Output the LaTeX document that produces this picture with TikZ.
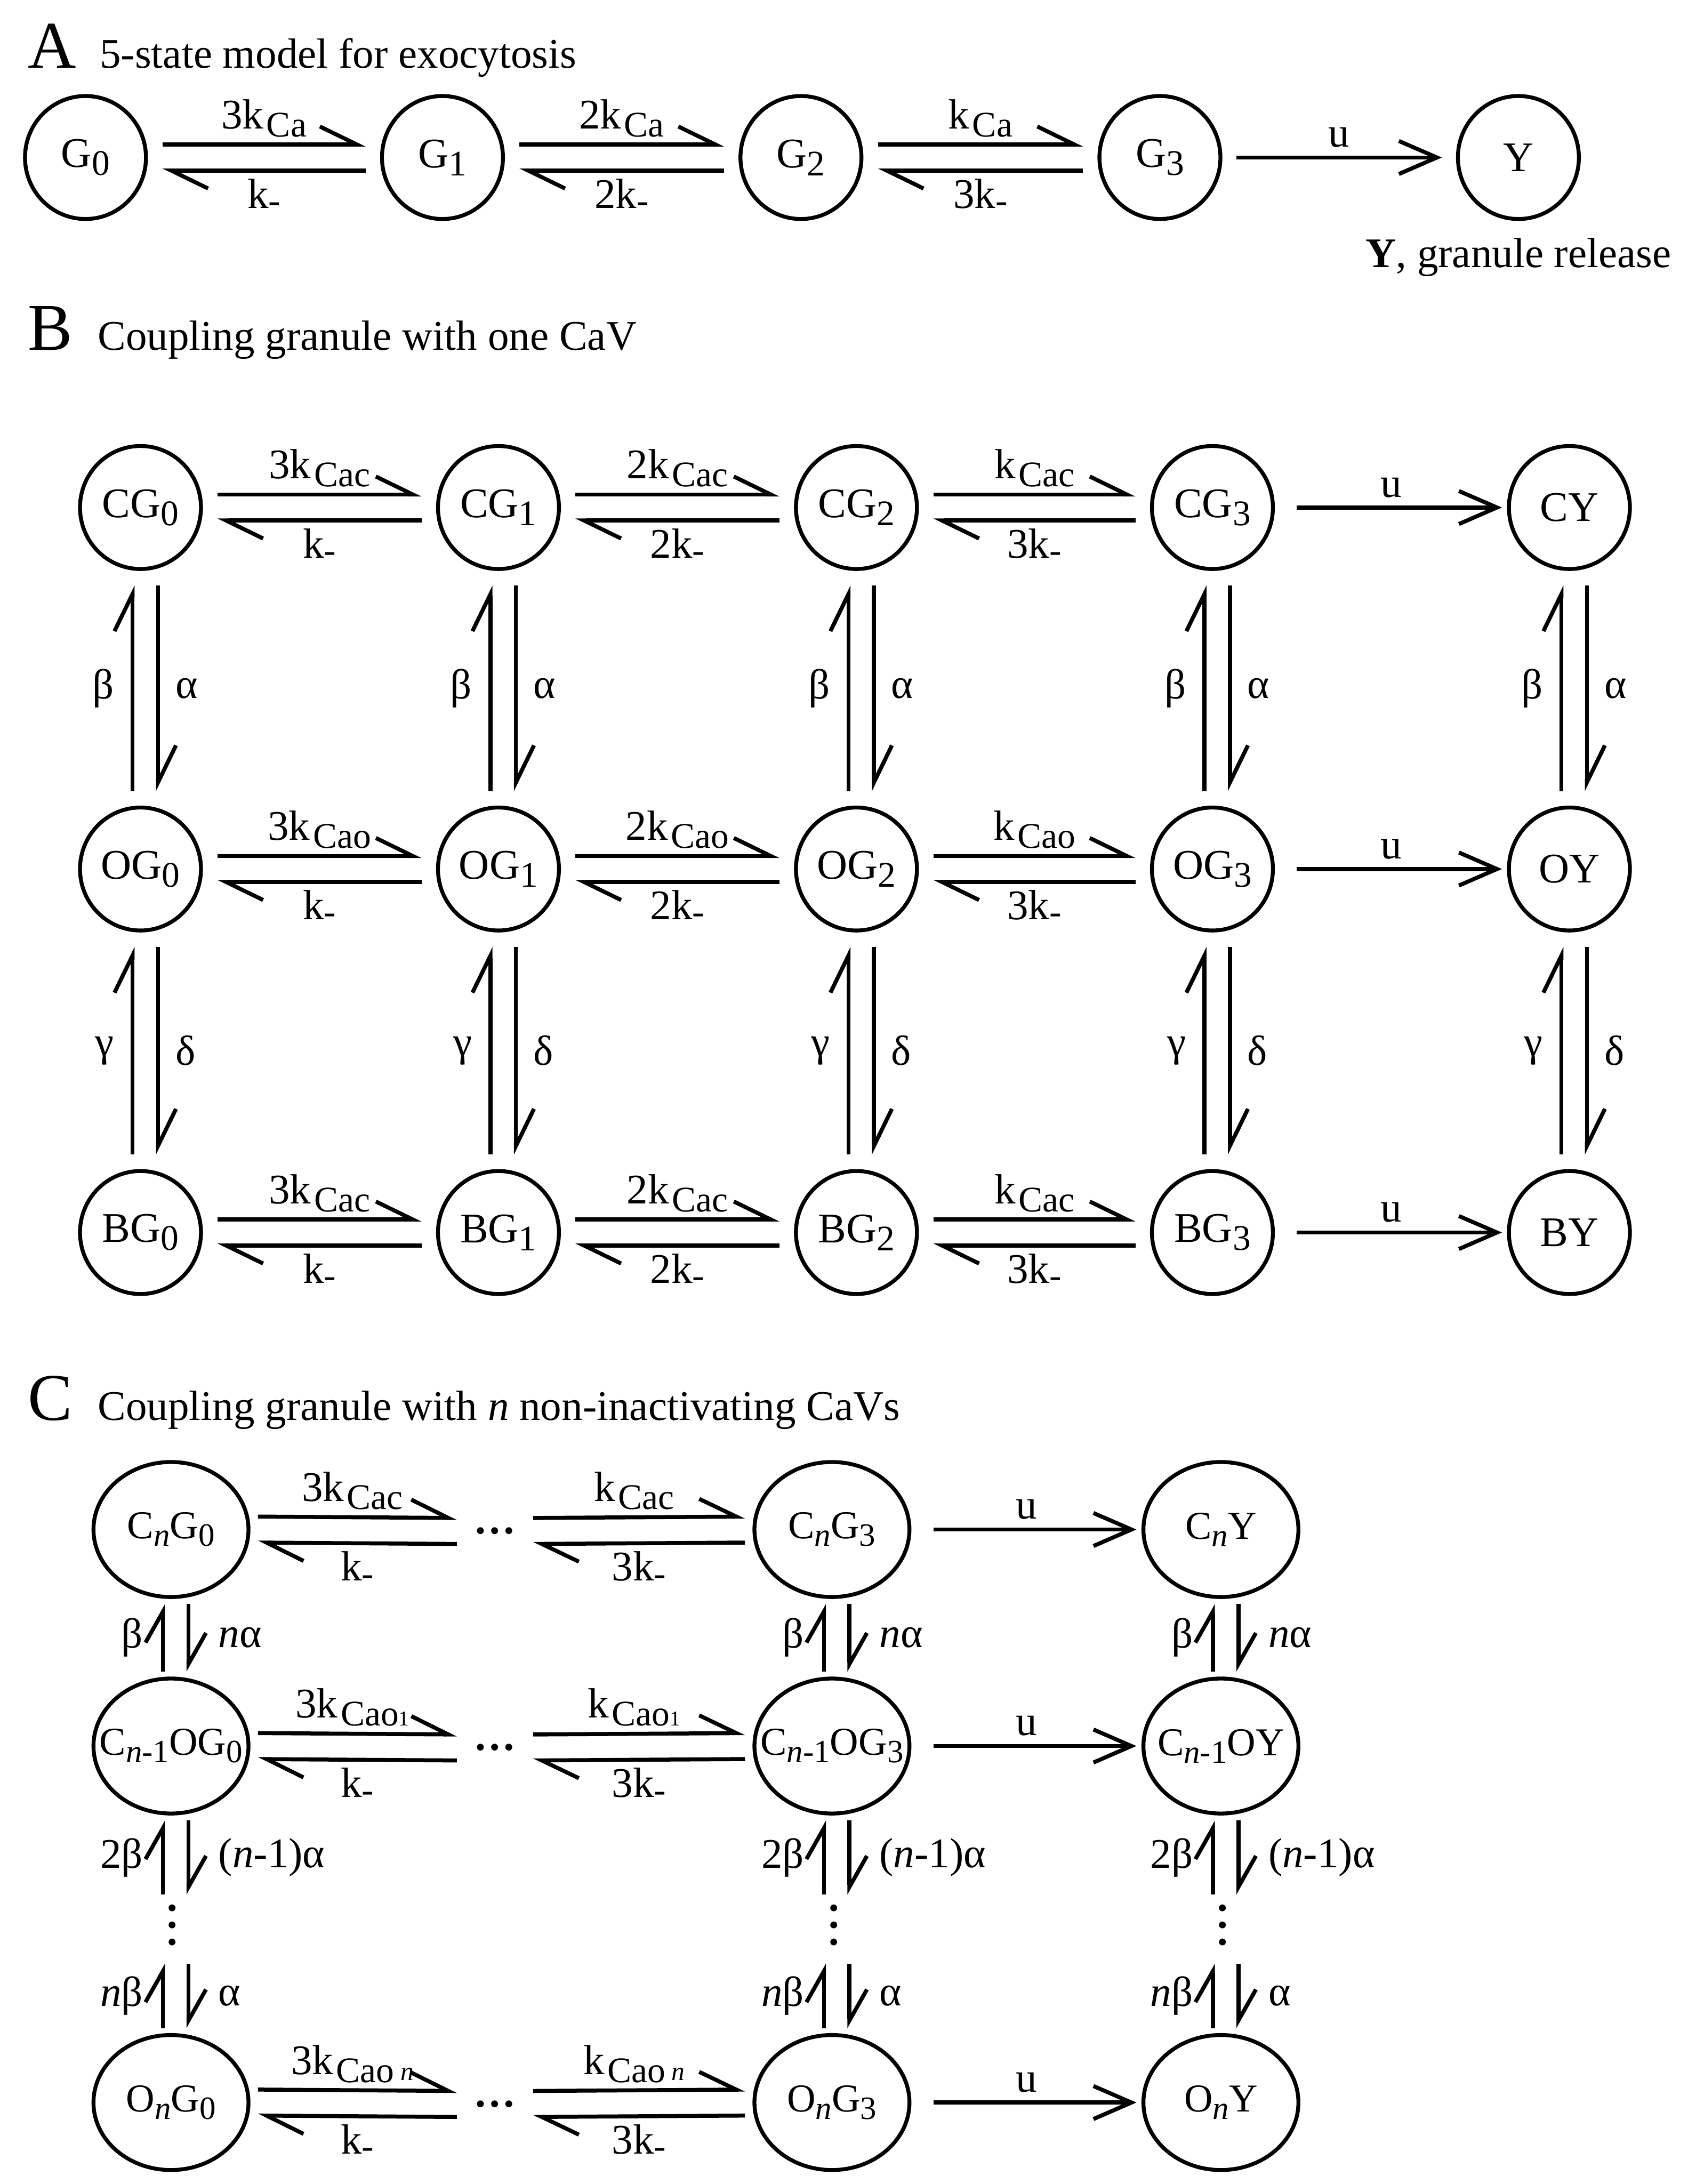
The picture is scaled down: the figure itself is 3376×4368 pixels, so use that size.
\documentclass[tikz,border=0pt]{standalone}
\usepackage{fontspec}
\setmainfont{Liberation Serif}
\usetikzlibrary{arrows.meta, shapes.geometric, positioning}

% lowered subscripts as set in the figure
\newcommand{\sbs}[1]{\raisebox{-1.6mm}{\fontsize{20.5}{20}\selectfont #1}}
\newcommand{\csb}[1]{\raisebox{-1.5mm}{\fontsize{18.5}{18}\selectfont #1}}
\newcommand{\ssbs}[1]{{\fontsize{12}{12}\selectfont #1}}
\newcommand{\nsub}{\raisebox{0.4mm}{\fontsize{15}{15}\selectfont\textit{n}}}
\newcommand{\mn}{\raisebox{-0.9mm}{\fontsize{20.5}{20}\selectfont -}}

% two opposite rates between two points
\newcommand{\hpair}[4]{%
  \draw[harp] ([yshift=2.6mm]#1) -- node[toplbl] {#3} ([yshift=2.6mm]#2);
  \draw[harp] ([yshift=-2.6mm]#2) -- node[botlbl] {#4} ([yshift=-2.6mm]#1);}
\newcommand{\vpair}[4]{%
  \draw[vharp] ([xshift=-1.6mm]#2) -- node[lftlbl] {#3} ([xshift=-1.6mm]#1);
  \draw[vharp] ([xshift=3.5mm]#1) -- node[rgtlbl] {#4} ([xshift=3.5mm]#2);}

\begin{document}
\begin{tikzpicture}[x=0.1mm, y=-0.1mm,
    every node/.style={font=\fontsize{24}{28}\selectfont, inner sep=0pt},
    st/.style={draw, ellipse, line width=0.78mm, minimum width=24.2mm,
               minimum height=24.6mm, inner sep=-8mm},
    stc/.style={st, minimum width=31mm, minimum height=27mm,
                font=\fontsize{22.5}{27}\selectfont},
    harp/.style={line width=0.8mm, shorten <=2.9mm, shorten >=2.9mm,
                 -{Straight Barb[left, sharp, length=7.4mm, width=7.2mm]}},
    vharp/.style={harp},
    rel/.style={line width=0.8mm, shorten <=2.8mm, shorten >=2.8mm,
                -{Straight Barb[sharp, length=7.6mm, width=6.6mm]}},
    toplbl/.style={anchor=base, yshift=3.2mm},
    botlbl/.style={anchor=base, yshift=-7.5mm},
    ulbl/.style={anchor=base, yshift=2.1mm},
    lftlbl/.style={left=3.3mm},
    rgtlbl/.style={right=3.1mm},
    ttl/.style={anchor=base west, font=\fontsize{38}{40}\selectfont},
    sub/.style={anchor=base west}]
  \useasboundingbox (0,0) rectangle (3376,4368);

  % A
  \node[ttl] (A) at (55,136) {A};
  \node[sub] (Atitle) at (199,136) {5-state model for exocytosis};
  \node[st] (G0) at (171,315) {G\sbs{0}};
  \node[st] (G1) at (885,315) {G\sbs{1}};
  \node[st] (G2) at (1602,315) {G\sbs{2}};
  \node[st] (G3) at (2320,315) {G\sbs{3}};
  \node[st] (Y) at (3037,315) {Y};
  \node[below=3.4mm of Y] (Ylbl) {\textbf{Y}, granule release};
  \hpair{G0.east}{G1.west}{3k\kern0.6mm\sbs{Ca}}{k\mn}
  \hpair{G1.east}{G2.west}{2k\kern0.6mm\sbs{Ca}}{2k\mn}
  \hpair{G2.east}{G3.west}{k\kern0.6mm\sbs{Ca}}{3k\mn}
  \draw[rel] (G3) -- node[ulbl] {u} (Y);

  % B
  \node[ttl] (B) at (55,700) {B};
  \node[sub] (Btitle) at (195,700) {Coupling granule with one CaV};
  \node[st] (CG0) at (281,1015) {CG\sbs{0}};
  \node[st] (CG1) at (997,1015) {CG\sbs{1}};
  \node[st] (CG2) at (1713,1015) {CG\sbs{2}};
  \node[st] (CG3) at (2425,1015) {CG\sbs{3}};
  \node[st] (CY) at (3139,1015) {CY};
  \node[st] (OG0) at (281,1738) {OG\sbs{0}};
  \node[st] (OG1) at (997,1738) {OG\sbs{1}};
  \node[st] (OG2) at (1713,1738) {OG\sbs{2}};
  \node[st] (OG3) at (2425,1738) {OG\sbs{3}};
  \node[st] (OY) at (3139,1738) {OY};
  \node[st] (BG0) at (281,2465) {BG\sbs{0}};
  \node[st] (BG1) at (997,2465) {BG\sbs{1}};
  \node[st] (BG2) at (1713,2465) {BG\sbs{2}};
  \node[st] (BG3) at (2425,2465) {BG\sbs{3}};
  \node[st] (BY) at (3139,2465) {BY};

  \hpair{CG0.east}{CG1.west}{3k\kern0.6mm\sbs{Cac}}{k\mn}
  \hpair{CG1.east}{CG2.west}{2k\kern0.6mm\sbs{Cac}}{2k\mn}
  \hpair{CG2.east}{CG3.west}{k\kern0.6mm\sbs{Cac}}{3k\mn}
  \hpair{OG0.east}{OG1.west}{3k\kern0.6mm\sbs{Cao}}{k\mn}
  \hpair{OG1.east}{OG2.west}{2k\kern0.6mm\sbs{Cao}}{2k\mn}
  \hpair{OG2.east}{OG3.west}{k\kern0.6mm\sbs{Cao}}{3k\mn}
  \hpair{BG0.east}{BG1.west}{3k\kern0.6mm\sbs{Cac}}{k\mn}
  \hpair{BG1.east}{BG2.west}{2k\kern0.6mm\sbs{Cac}}{2k\mn}
  \hpair{BG2.east}{BG3.west}{k\kern0.6mm\sbs{Cac}}{3k\mn}

  \vpair{CG0.south}{OG0.north}{β}{α}
  \vpair{CG1.south}{OG1.north}{β}{α}
  \vpair{CG2.south}{OG2.north}{β}{α}
  \vpair{CG3.south}{OG3.north}{β}{α}
  \vpair{CY.south}{OY.north}{β}{α}
  \vpair{OG0.south}{BG0.north}{γ}{δ}
  \vpair{OG1.south}{BG1.north}{γ}{δ}
  \vpair{OG2.south}{BG2.north}{γ}{δ}
  \vpair{OG3.south}{BG3.north}{γ}{δ}
  \vpair{OY.south}{BY.north}{γ}{δ}

  \begin{scope}[rel/.append style={shorten <=4.4mm, shorten >=1mm}]
    \draw[rel] (CG3) -- node[ulbl] {u} (CY);
    \draw[rel] (OG3) -- node[ulbl] {u} (OY);
    \draw[rel] (BG3) -- node[ulbl] {u} (BY);
  \end{scope}

  % C
  \node[ttl] (C) at (55,2840) {C};
  \node[sub] (Ctitle) at (195,2840) {Coupling granule with \textit{n} non-inactivating CaVs};
  \node[stc] (CnG0) at (342,3059) {C\csb{\textit{n}}G\csb{0}};
  \node[stc] (CnG3) at (1664,3059) {C\csb{\textit{n}}G\csb{3}};
  \node[stc] (CnY) at (2442,3059) {C\csb{\textit{n}}Y};
  \node[stc] (CmOG0) at (342,3492) {C\csb{\textit{n}-1}OG\csb{0}};
  \node[stc] (CmOG3) at (1664,3492) {C\csb{\textit{n}-1}OG\csb{3}};
  \node[stc] (CmOY) at (2442,3492) {C\csb{\textit{n}-1}OY};
  \node[stc] (OnG0) at (342,4205) {O\csb{\textit{n}}G\csb{0}};
  \node[stc] (OnG3) at (1664,4205) {O\csb{\textit{n}}G\csb{3}};
  \node[stc] (OnY) at (2442,4205) {O\csb{\textit{n}}Y};

  \begin{scope}[harp/.append style={shorten <=1.5mm, shorten >=1.5mm},
      vharp/.append style={shorten <=1mm, shorten >=1mm,
        -{Straight Barb[left, sharp, length=6.2mm, width=7mm]}},
      rel/.append style={shorten <=4.4mm, shorten >=1mm},
      lftlbl/.style={left=3.6mm}, rgtlbl/.style={right=5.6mm},
      toplbl/.append style={xshift=-1mm},
      hdots/.style={minimum width=12.1mm, font=\fontsize{24}{28}\selectfont\bfseries},
      vdots/.style={rotate=90, font=\fontsize{24}{28}\selectfont\bfseries}]
    \node[hdots] (hd1) at (990,3062) {\ldots};
    \node[hdots] (hd2) at (990,3495) {\ldots};
    \node[hdots] (hd3) at (990,4208) {\ldots};
    \node[vdots] (vd1) at (345,3850) {.\kern1.3mm.\kern1.3mm.};
    \node[vdots] (vd2) at (1668,3850) {.\kern1.3mm.\kern1.3mm.};
    \node[vdots] (vd3) at (2446,3850) {.\kern1.3mm.\kern1.3mm.};
    \coordinate (up1) at (342,3799);
    \coordinate (up2) at (1664,3799);
    \coordinate (up3) at (2442,3799);
    \coordinate (lo1) at (342,3917);
    \coordinate (lo2) at (1664,3917);
    \coordinate (lo3) at (2442,3917);

    \hpair{CnG0.east}{hd1.west}{3k\kern0.6mm\sbs{Cac}}{k\mn}
    \hpair{hd1.east}{CnG3.west}{k\kern0.6mm\sbs{Cac}}{3k\mn}
    \hpair{CmOG0.east}{hd2.west}{3k\kern0.6mm\sbs{Cao\ssbs{1}}}{k\mn}
    \hpair{hd2.east}{CmOG3.west}{k\kern0.6mm\sbs{Cao\ssbs{1}}}{3k\mn}
    \hpair{OnG0.east}{hd3.west}{3k\kern0.6mm\sbs{Cao\,\nsub}}{k\mn}
    \hpair{hd3.east}{OnG3.west}{k\kern0.6mm\sbs{Cao\,\nsub}}{3k\mn}
    \draw[rel] (CnG3) -- node[ulbl] {u} (CnY);
    \draw[rel] (CmOG3) -- node[ulbl] {u} (CmOY);
    \draw[rel] (OnG3) -- node[ulbl] {u} (OnY);

    \vpair{CnG0.south}{CmOG0.north}{β}{\textit{n}α}
    \vpair{CnG3.south}{CmOG3.north}{β}{\textit{n}α}
    \vpair{CnY.south}{CmOY.north}{β}{\textit{n}α}
    \vpair{CmOG0.south}{up1}{2β}{(\textit{n}-1)α}
    \vpair{CmOG3.south}{up2}{2β}{(\textit{n}-1)α}
    \vpair{CmOY.south}{up3}{2β}{(\textit{n}-1)α}
    \vpair{lo1}{OnG0.north}{\textit{n}β}{α}
    \vpair{lo2}{OnG3.north}{\textit{n}β}{α}
    \vpair{lo3}{OnY.north}{\textit{n}β}{α}
  \end{scope}
\end{tikzpicture}
\end{document}
